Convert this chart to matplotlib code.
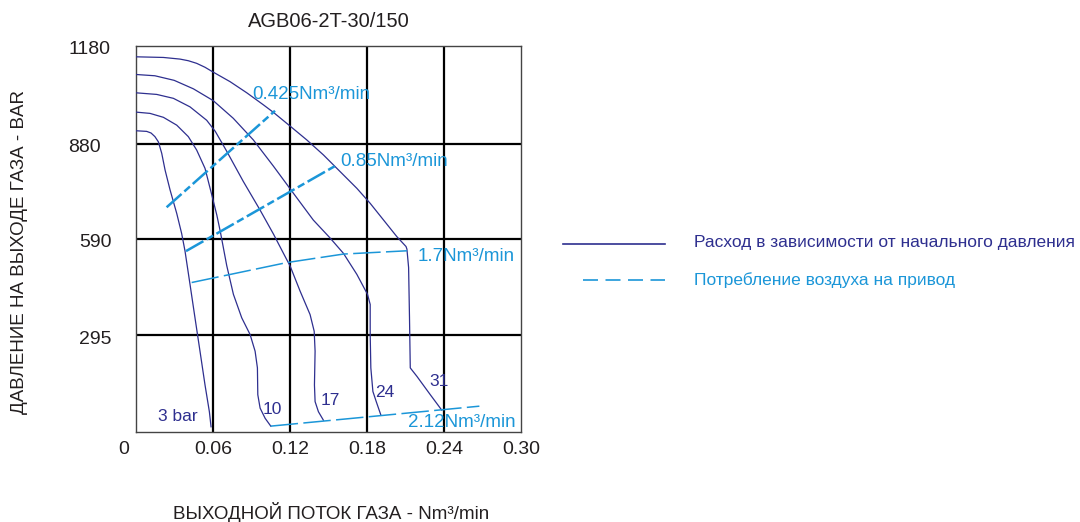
import matplotlib
matplotlib.use("Agg")
import matplotlib.pyplot as plt
import matplotlib.transforms as mtransforms

plt.rcParams['font.family'] = ['Liberation Sans', 'DejaVu Sans']

NAVY = '#2e2f8f'
CYAN = '#1b96d8'
TXT = '#231f20'

title = "AGB06-2T-30/150"
xlabel = "ВЫХОДНОЙ ПОТОК ГАЗА - Nm³/min"
ylabel = "ДАВЛЕНИЕ НА ВЫХОДЕ ГАЗА - BAR"
xticks = [0, 0.06, 0.12, 0.18, 0.24, 0.30]
xticklabels = ["0", "0.06", "0.12", "0.18", "0.24", "0.30"]
yticks = [295, 590, 880, 1180]
yticklabels = ["295", "590", "880", "1180"]

# flow curves for inlet pressure
c3_x = [0.0, 0.0086, 0.0120, 0.0150, 0.0177, 0.0203, 0.0229, 0.0268, 0.0320, 0.0358, 0.0384, 0.0423, 0.0462, 0.0501, 0.0540, 0.0574, 0.0587]
c3_y = [920, 918, 913, 902, 886, 851, 800, 739, 667, 606, 553, 451, 348, 246, 143, 61, 15]
c10_x = [0.0, 0.0112, 0.0216, 0.0320, 0.0410, 0.0475, 0.0540, 0.0590, 0.0632, 0.0660, 0.0709, 0.0761, 0.0826, 0.0891, 0.0930, 0.0948, 0.0951, 0.0969, 0.1008, 0.1052]
c10_y = [977, 973, 961, 937, 902, 861, 805, 728, 662, 610, 508, 420, 348, 297, 246, 195, 113, 72, 41, 17]
c17_x = [0.0, 0.0164, 0.0294, 0.0423, 0.0553, 0.0620, 0.0708, 0.0838, 0.0968, 0.1073, 0.1151, 0.1203, 0.1280, 0.1358, 0.1390, 0.1397, 0.1392, 0.1397, 0.1423, 0.1462]
c17_y = [1036, 1031, 1019, 993, 952, 918, 858, 765, 678, 604, 545, 506, 430, 358, 307, 246, 143, 92, 61, 35]
c24_x = [0.0, 0.0150, 0.0300, 0.0450, 0.0604, 0.0760, 0.0916, 0.1072, 0.1228, 0.1383, 0.1514, 0.1618, 0.1722, 0.1805, 0.1826, 0.1826, 0.1831, 0.1847, 0.1873, 0.1909]
c24_y = [1092, 1088, 1074, 1048, 1012, 958, 892, 812, 729, 647, 592, 545, 481, 420, 389, 297, 195, 123, 92, 51]
c31_x = [0.0, 0.0216, 0.0345, 0.0410, 0.0475, 0.0540, 0.0600, 0.0735, 0.0865, 0.0995, 0.1073, 0.1203, 0.1332, 0.1462, 0.1592, 0.1722, 0.1826, 0.1930, 0.2034, 0.2105, 0.2112, 0.2125, 0.2132, 0.2138, 0.2190, 0.2294, 0.2383]
c31_y = [1146, 1144, 1139, 1134, 1126, 1114, 1100, 1070, 1036, 999, 976, 934, 892, 846, 795, 744, 698, 647, 596, 566, 558, 502, 348, 195, 169, 113, 66]
curves = [(c3_x, c3_y), (c10_x, c10_y), (c17_x, c17_y), (c24_x, c24_y), (c31_x, c31_y)]
curve_labels = ["3 bar", "10", "17", "24", "31"]
curve_label_x = [0.0171, 0.0989, 0.1443, 0.1863, 0.2286]
curve_label_y = [46, 69, 95, 119, 153]

# air consumption lines
a1_x = [0.0241, 0.1085]
a1_y = [686, 981]
a2_x = [0.0392, 0.1552]
a2_y = [552, 812]
a3_x = [0.0436, 0.1177, 0.1618, 0.2112]
a3_y = [456, 517, 543, 553]
a4_x = [0.1051, 0.2676]
a4_y = [17, 78]
air_labels = ["0.425Nm³/min", "0.85Nm³/min", "1.7Nm³/min", "2.12Nm³/min"]
air_label_x = [0.0911, 0.1591, 0.2193, 0.2123]
air_label_y = [1031, 827, 535, 29]

legend_labels = ["Расход в зависимости от начального давления", "Потребление воздуха на привод"]

fig = plt.figure(figsize=(10.8, 5.22), dpi=100)
ax = fig.add_axes([0.1256, 0.173, 0.3568, 0.7395])
ax.set_xlim(0, 0.30)
ax.set_ylim(0, 1180)
ax.set_xticks([])
ax.set_yticks([])

for v in xticks[1:-1]:
    ax.axvline(v, color='black', lw=1.6, zorder=1)
for v in yticks[:-1]:
    ax.axhline(v, color='black', lw=1.6, zorder=1)
for s in ax.spines.values():
    s.set_color('#444444')
    s.set_linewidth(1.0)

for (xs, ys) in curves:
    ax.plot(xs, ys, color=NAVY, lw=0.9, zorder=3, solid_joinstyle='round')
for t, x, y in zip(curve_labels, curve_label_x, curve_label_y):
    ax.text(x, y, t, color=NAVY, fontsize=12.5, va='center', ha='left', zorder=4)

ax.plot(a1_x, a1_y, color=CYAN, lw=1.8, ls=(0, (8, 1.5, 3, 1.5)), zorder=4)
ax.plot(a2_x, a2_y, color=CYAN, lw=1.8, ls=(0, (8, 1.5, 3, 1.5)), zorder=4)
ax.plot(a3_x, a3_y, color=CYAN, lw=1.1, ls=(0, (18, 3.5)), zorder=4)
ax.plot(a4_x, a4_y, color=CYAN, lw=1.1, ls=(0, (18, 3.5)), zorder=4)
for t, x, y in zip(air_labels, air_label_x, air_label_y):
    ax.text(x, y, t, color=CYAN, fontsize=13.5, va='center', ha='left', zorder=5)

# tick labels
ytrans = mtransforms.offset_copy(mtransforms.blended_transform_factory(ax.transAxes, ax.transData),
                                 fig=fig, x=0, y=-4, units='dots')
ylab_xpos = [-0.063, -0.063, -0.090, -0.064]
for v, t, xp in zip(yticks, yticklabels, ylab_xpos):
    ax.text(xp, v, t, transform=ytrans, ha='right', va='center', fontsize=14, color=TXT)
xtrans = mtransforms.blended_transform_factory(ax.transData, ax.transAxes)
xlab_shift = [-0.0092, 0.0003, 0.0006, 0.0006, 0.0004, 0.0004]
for v, t, dx in zip(xticks, xticklabels, xlab_shift):
    ax.text(v + dx, -0.046, t, transform=xtrans, ha='center', va='center', fontsize=14, color=TXT)

fig.text(0.3046, 0.958, title, ha='center', va='center', fontsize=14.5, color=TXT)
fig.text(0.3065, 0.0186, xlabel, ha='center', va='center', fontsize=13.5, color=TXT)
fig.text(0.0176, 0.517, ylabel, ha='center', va='center', rotation=90, fontsize=13.5, color=TXT)

# legend
fig.add_artist(plt.Line2D([563/1080, 665/1080], [1-244/522, 1-244/522], color=NAVY, lw=1.2))
fig.add_artist(plt.Line2D([583/1080, 665/1080], [1-280/522, 1-280/522], color=CYAN, lw=1.2, ls=(0, (9, 4.5))))
fig.text(694/1080, 1-243/522, legend_labels[0], color=NAVY, fontsize=12.5, va='center', ha='left')
fig.text(694/1080, 1-280/522, legend_labels[1], color=CYAN, fontsize=12.5, va='center', ha='left')

fig.savefig("out.png", dpi=100)
